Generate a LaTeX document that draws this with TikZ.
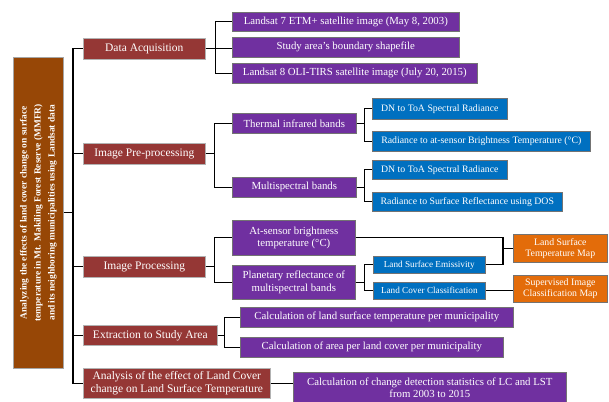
\documentclass[tikz,border=0pt]{standalone}
\usepackage{fontspec}
\setmainfont{Liberation Serif}
\definecolor{rootc}{HTML}{974706}
\definecolor{redc}{HTML}{953735}
\definecolor{purc}{HTML}{7030A0}
\definecolor{bluc}{HTML}{0070C0}
\definecolor{orac}{HTML}{E36C0A}
\begin{document}
\begin{tikzpicture}[x=1pt,y=-1pt,
  box/.style={anchor=north west, inner sep=0.5pt, align=center, text=white, draw=black!55, line width=0.6pt},
  rootbox/.style={box, fill=rootc, draw=gray!70},
  lone/.style={box, fill=redc, draw=gray!60, font=\fontsize{11.5}{13}\selectfont},
  purbox/.style={box, fill=purc, font=\fontsize{10.8}{12.5}\selectfont},
  blubox/.style={box, fill=bluc, font=\fontsize{9.8}{11}\selectfont},
  orabox/.style={box, fill=orac, font=\fontsize{9.8}{11}\selectfont},
  conn/.style={draw=black, line width=1.3pt}]
\useasboundingbox (0,0) rectangle (609,401);
% root
\node[rootbox, minimum width=50, minimum height=311] (root) at (13,57) {};
\node[rotate=90, text=white, align=center, font=\bfseries\fontsize{9.4}{14}\selectfont] (roottext) at (root.center)
 {Analyzing the effects of land cover change on surface\\temperature in Mt. Makiling Forest Reserve (MMFR)\\and its neighboring municipalities using Landsat data};
% level 1
\node[lone, minimum width=122, minimum height=21] (da) at (83,38) {Data Acquisition};
\node[lone, minimum width=122, minimum height=21] (ipp) at (83,143) {Image Pre-processing};
\node[lone, minimum width=122, minimum height=21] (ip) at (83,256) {Image Processing};
\node[lone, minimum width=134, minimum height=20] (ex) at (83,325) {Extraction to Study Area};
\node[lone, minimum width=187, minimum height=30] (an) at (83,368) {Analysis of the effect of Land Cover\\change on Land Surface Temperature};
% data acquisition
\node[purbox, minimum width=227, minimum height=19] (l7) at (232,12) {Landsat 7 ETM+ satellite image (May 8, 2003)};
\node[purbox, minimum width=227, minimum height=20] (sa) at (232,37) {Study area’s boundary shapefile};
\node[purbox, minimum width=245, minimum height=20] (l8) at (232,63) {Landsat 8 OLI-TIRS satellite image (July 20, 2015)};
% pre-processing
\node[purbox, minimum width=124, minimum height=20] (tir) at (232,113) {Thermal infrared bands};
\node[purbox, minimum width=124, minimum height=20] (msb) at (232,177) {Multispectral bands};
\node[blubox, minimum width=135, minimum height=21] (dn1) at (372,98) {DN to ToA Spectral Radiance};
\node[blubox, minimum width=218, minimum height=20] (rbt) at (372,131) {Radiance to at-sensor Brightness Temperature (°C)};
\node[blubox, minimum width=135, minimum height=19] (dn2) at (372,160) {DN to ToA Spectral Radiance};
\node[blubox, minimum width=190, minimum height=19] (rsr) at (372,192) {Radiance to Surface Reflectance using DOS};
% processing
\node[purbox, minimum width=123, minimum height=35] (at) at (232,220) {At-sensor brightness\\temperature (°C)};
\node[purbox, minimum width=123, minimum height=34] (pr) at (232,265) {Planetary reflectance of\\multispectral bands};
\node[blubox, minimum width=112, minimum height=17, font=\fontsize{9.2}{10}\selectfont] (lse) at (373,256) {Land Surface Emissivity};
\node[blubox, minimum width=112, minimum height=17, font=\fontsize{9.2}{10}\selectfont] (lcc) at (373,282) {Land Cover Classification};
\node[orabox, minimum width=94, minimum height=28] (lstm) at (513,234) {Land Surface\\Temperature Map};
\node[orabox, minimum width=94, minimum height=27] (sicm) at (513,275) {Supervised Image\\Classification Map};
% extraction
\node[purbox, minimum width=273, minimum height=20] (c1) at (240,307) {Calculation of land surface temperature per municipality};
\node[purbox, minimum width=263, minimum height=20] (c2) at (240,337) {Calculation of area per land cover per municipality};
% analysis
\node[purbox, minimum width=273, minimum height=31] (cd) at (293,372) {Calculation of change detection statistics of LC and LST\\from 2003 to 2015};
% connectors
\draw[conn] (root.east) -- ++(10,0);
\draw[conn] (da.west) -- ++(-10,0) |- (an.west);
\draw[conn] (ipp.west) -- ++(-10,0);
\draw[conn] (ip.west) -- ++(-10,0);
\draw[conn] (ex.west) -- ++(-10,0);
\draw[conn] (da.east) -- ++(10,0) |- (l7.west);
\draw[conn] (da.east) -- ++(10,0) |- (l8.west);
\draw[conn] (da.east) -- (da.east -| sa.west);
\draw[conn] (ipp.east) -- ++(9,0) |- (tir.west);
\draw[conn] (ipp.east) -- ++(9,0) |- (msb.west);
\draw[conn] (tir.east) -- ++(8,0) |- (dn1.west);
\draw[conn] (tir.east) -- ++(8,0) |- (rbt.west);
\draw[conn] (msb.east) -- ++(8,0) |- (dn2.west);
\draw[conn] (msb.east) -- ++(8,0) |- (rsr.west);
\draw[conn] (ip.east) -- ++(9,0) |- (at.west);
\draw[conn] (ip.east) -- ++(9,0) |- (pr.west);
\draw[conn] (pr.east) -- ++(9,0) |- (lse.west);
\draw[conn] (pr.east) -- ++(9,0) |- (lcc.west);
\coordinate (jx) at (503,0);
\draw[conn] (at.east) -| (jx |- lse.east) -- (lse.east);
\draw[conn] (jx |- lstm.west) -- (lstm.west);
\draw[conn] (lcc.east) -- (lcc.east -| sicm.west);
\draw[conn] (ex.east) -- ++(7,0) |- (c1.west);
\draw[conn] (ex.east) -- ++(7,0) |- (c2.west);
\draw[conn] (an.east) -- (an.east -| cd.west);
\end{tikzpicture}
\end{document}
